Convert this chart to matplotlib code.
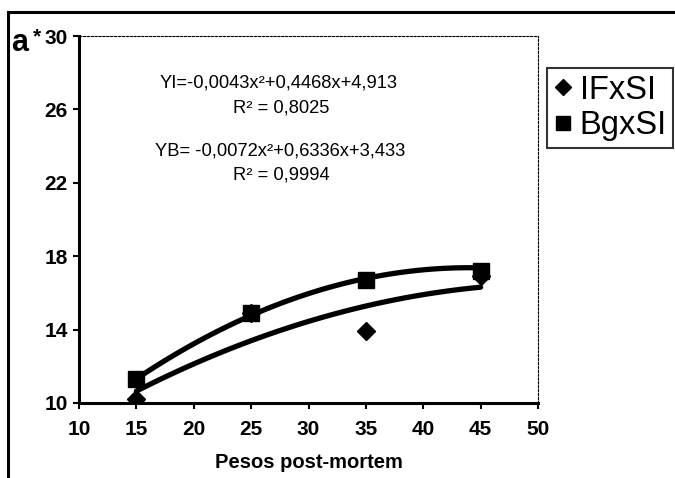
import numpy as np
import matplotlib
matplotlib.use("Agg")
import matplotlib.pyplot as plt
from matplotlib.lines import Line2D

plt.rcParams['font.family'] = ['Liberation Sans', 'DejaVu Sans']

# Pesos post-mortem (kg) and a* readings per group
pesos = [15, 25, 35, 45]
a_ifxsi = [10.2, 14.9, 13.9, 16.9]
a_bgxsi = [11.3, 14.9, 16.7, 17.2]

# quadratic trend coefficients (x^2, x, 1)
coef_i = [-0.0043, 0.4468, 4.913]
coef_b = [-0.0072, 0.6336, 3.433]
r2_i = "0,8025"
r2_b = "0,9994"

x_ticks = [10, 15, 20, 25, 30, 35, 40, 45, 50]
y_ticks = [10, 14, 18, 22, 26, 30]

W, H = 675, 478
fig = plt.figure(figsize=(W / 100, H / 100), dpi=100)
ax = fig.add_axes([79 / W, 1 - 403 / H, (538 - 79) / W, (403 - 36) / H])

xs = np.linspace(pesos[0], pesos[-1], 100)
ax.plot(xs, np.polyval(coef_i, xs), color='black', lw=3.8, solid_capstyle='round', zorder=2)
ax.plot(xs, np.polyval(coef_b, xs), color='black', lw=3.8, solid_capstyle='round', zorder=2)
ax.plot(pesos, a_ifxsi, linestyle='none', marker='D', ms=9, color='black', zorder=3)
ax.plot(pesos, a_bgxsi, linestyle='none', marker='s', ms=11.5, color='black', zorder=4)

ax.set_xlim(10, 50)
ax.set_ylim(10, 30)
ax.set_xticks(x_ticks)
ax.set_yticks(y_ticks)
ax.tick_params(direction='out', length=4, width=1.5, labelsize=15, pad=4)
for lbl in ax.get_xticklabels() + ax.get_yticklabels():
    lbl.set_fontweight('bold')
ax.tick_params(axis='x', pad=8)

for side in ('left', 'bottom'):
    ax.spines[side].set_linewidth(2.2)
for side in ('top', 'right'):
    ax.spines[side].set_linewidth(0.8)
    ax.spines[side].set_linestyle((0, (2, 1.5)))

ax.set_xlabel("Pesos post-mortem", fontsize=14.5, fontweight='bold', labelpad=10)

# equations of the fitted curves
eq_i = "YI=-0,0043x²+0,4468x+4,913"
eq_b = "YB= -0,0072x²+0,6336x+3,433"
ax.text(27.4, 27.45, eq_i, fontsize=13.2, ha='center', va='center')
ax.text(27.6, 26.1, "R² = " + r2_i, fontsize=13.2, ha='center', va='center')
ax.text(27.5, 23.75, eq_b, fontsize=13.2, ha='center', va='center')
ax.text(27.6, 22.4, "R² = " + r2_b, fontsize=13.2, ha='center', va='center')

fig.text(11 / W, 1 - 43 / H, "a", fontsize=22, fontweight='bold', va='center', ha='left')
fig.text(33 / W, 1 - 37 / H, "*", fontsize=15, fontweight='bold', va='center', ha='left')

# outer frame (left and top edges)
fig.add_artist(Line2D([8 / W, 8 / W], [0, 1 - 12 / H], color='black', lw=2.2,
                      transform=fig.transFigure))
fig.add_artist(Line2D([8 / W, 1], [1 - 12 / H, 1 - 12 / H], color='black', lw=2.2,
                      transform=fig.transFigure))

handles = [Line2D([], [], linestyle='none', marker='D', ms=8, color='black'),
           Line2D([], [], linestyle='none', marker='s', ms=10, color='black')]
leg = fig.legend(handles, ["IFxSI", "BgxSI"], loc='upper left',
                 bbox_to_anchor=(547 / W, 1 - 68 / H), fontsize=23.5,
                 frameon=True, fancybox=False, edgecolor='black',
                 handlelength=0.55, handletextpad=0.25, borderpad=0.2,
                 borderaxespad=0, labelspacing=0.15)
leg.get_frame().set_linewidth(1.5)

fig.savefig("out.png", dpi=100, facecolor='white')
